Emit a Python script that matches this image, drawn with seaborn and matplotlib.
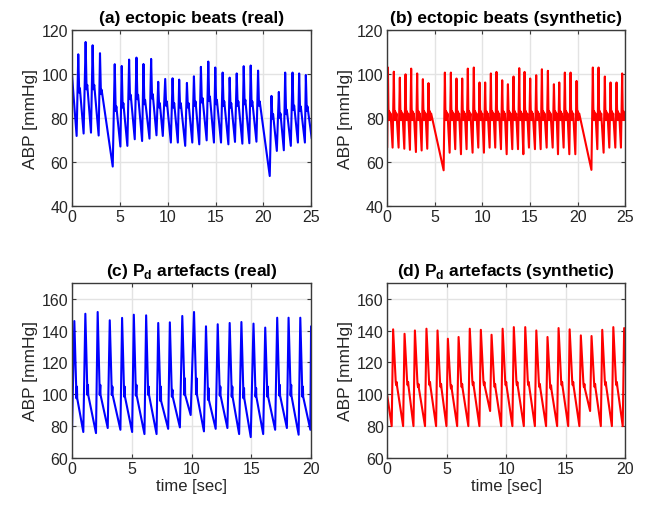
import numpy as np
import pandas as pd
import matplotlib
matplotlib.use("Agg")
import matplotlib.pyplot as plt
import seaborn as sns

# ---- (a) ectopic beats, real ----
a_lead_t = [0.0, 0.17]
a_lead_v = [100.0, 90.0]
a_trough_t = [0.49, 1.22, 1.99, 2.79, 4.26, 5.06, 5.79, 6.56, 7.33, 8.10,
              8.83, 9.49, 10.33, 11.06, 11.83, 12.57, 13.30, 14.07, 14.83, 15.57,
              16.34, 17.03, 17.80, 18.53, 19.27, 20.66, 21.40, 22.13, 22.86, 23.60, 24.33]
a_trough_v = [71.8, 72.9, 73.3, 72.0, 57.9, 67.0, 67.3, 70.3, 69.5, 70.6,
              72.1, 71.8, 68.8, 68.8, 67.3, 68.8, 68.0, 69.8, 68.8, 68.8,
              68.0, 69.1, 68.3, 68.5, 69.2, 53.6, 65.0, 65.3, 67.3, 68.8, 68.8]
a_peak_t = [0.66, 1.43, 2.16, 2.93, 4.47, 5.20, 5.97, 6.74, 7.47, 8.27,
            9.01, 9.74, 10.51, 11.20, 12.01, 12.74, 13.47, 14.24, 14.97, 15.74,
            16.47, 17.21, 17.94, 18.67, 19.44, 20.84, 21.61, 22.27, 23.04, 23.73, 24.43]
a_peak_v = [108.9, 114.5, 113.0, 109.4, 104.4, 103.6, 106.5, 107.4, 104.5, 106.8,
            96.4, 97.7, 98.0, 97.4, 95.9, 98.9, 103.2, 105.6, 102.9, 100.6,
            98.3, 100.2, 103.5, 103.8, 101.5, 90.0, 91.8, 100.6, 100.6, 100.2, 99.5]
a_notch_v = [91.5, 93.0, 93.0, 90.8, 83.2, 84.7, 88.5, 88.5, 86.2, 88.8,
             84.7, 85.5, 84.7, 84.7, 84.7, 85.5, 87.0, 87.7, 86.2, 85.5,
             84.7, 85.5, 86.2, 85.5, 85.5, 79.7, 80.0, 81.7, 83.6, 83.2, 83.2]
a_tail_t = [25.05]
a_tail_v = [70.5]

# ---- (b) ectopic beats, synthetic ----
b_trough_t = [0.0, 0.57, 1.20, 1.80, 2.39, 3.02, 3.62, 4.21,
              5.93, 6.56, 7.15, 7.75, 8.34, 8.97, 9.57, 10.16, 10.76, 11.35, 11.95, 12.55,
              13.14, 13.74, 14.30, 14.89, 15.52, 16.12, 16.75, 17.38, 17.94, 18.53, 19.13, 19.76,
              21.45, 22.07, 22.73, 23.33, 23.96, 24.55]
b_trough_v = [66.5, 66.5, 66.5, 66.0, 65.5, 64.5, 65.2, 66.0,
              56.2, 64.2, 65.8, 63.5, 65.8, 64.2, 66.5, 64.2, 66.5, 66.5, 65.8, 63.5,
              65.8, 65.8, 63.5, 66.5, 65.8, 65.8, 66.5, 66.5, 63.5, 66.5, 63.5, 63.5,
              56.4, 65.8, 64.2, 66.5, 66.5, 66.5]
b_peak_t = [0.08, 0.70, 1.33, 1.93, 2.52, 3.15, 3.75, 4.34,
            6.06, 6.69, 7.28, 7.88, 8.47, 9.10, 9.70, 10.29, 10.89, 11.48, 12.08, 12.68,
            13.27, 13.87, 14.43, 15.02, 15.65, 16.25, 16.88, 17.51, 18.07, 18.66, 19.26, 19.89,
            21.60, 22.20, 22.86, 23.46, 24.09, 24.68]
b_peak_v = [102.9, 101.0, 98.3, 99.8, 102.4, 100.2, 97.6, 95.8,
            100.6, 100.6, 97.9, 97.9, 102.4, 102.9, 96.1, 96.1, 100.2, 100.9, 97.1, 95.3,
            98.8, 102.6, 100.9, 97.9, 99.4, 102.1, 101.4, 95.3, 96.1, 100.6, 100.6, 96.8,
            102.9, 102.9, 98.8, 96.1, 96.1, 100.2]
b_notch_v = [82.0] * 38
b_tail_t = [25.05]
b_tail_v = [80.0]

# ---- (c) Pd artefacts, real ----
c_trough_t = [0.0, 0.95, 2.01, 2.99, 4.05, 5.03, 6.06, 7.07, 8.04, 9.02, 9.92,
              11.03, 12.01, 12.99, 13.97, 14.94, 15.98, 16.98, 17.96, 18.94, 19.92]
c_trough_v = [76.0, 76.3, 75.6, 78.8, 77.7, 76.3, 75.0, 75.0, 78.3, 79.2, 87.0,
              76.7, 78.3, 78.8, 75.0, 73.1, 75.0, 77.7, 78.8, 74.6, 77.7]
c_peak_t = [0.20, 1.12, 2.15, 3.16, 4.19, 5.17, 6.20, 7.21, 8.18, 9.22, 10.20,
            11.20, 12.18, 13.18, 14.16, 15.17, 16.15, 17.15, 18.10, 19.08, 19.98]
c_peak_v = [146.0, 150.6, 151.7, 146.5, 148.0, 150.0, 149.6, 144.8, 145.2, 149.2, 151.7,
            142.7, 144.0, 144.8, 145.4, 144.4, 141.9, 148.1, 148.1, 148.1, 142.7]
c_notch_hi = [105.8, 106.9, 106.9, 105.8, 105.8, 106.9, 105.8, 105.8, 103.8, 111.0, 111.0,
              104.8, 105.8, 105.8, 104.8, 104.8, 105.8, 106.9, 106.9, 105.8, 105.8]
c_notch_lo = [97.5, 99.6, 99.6, 99.6, 98.5, 99.2, 99.6, 95.8, 98.5, 99.6, 100.0,
              96.5, 99.2, 98.5, 97.5, 98.5, 98.5, 99.2, 99.2, 98.5, 98.5]

# ---- (d) Pd artefacts, synthetic ----
d_lead_t = [0.0]
d_lead_v = [99.5]
d_trough_t = [0.38, 1.34, 2.21, 3.18, 4.11, 4.98, 5.88, 6.82, 7.75, 8.65, 9.58,
              10.52, 11.48, 12.41, 13.35, 14.28, 15.21, 16.15, 17.05, 17.95, 18.88, 19.79]
d_trough_v = [80.0, 80.0, 80.0, 80.0, 80.0, 80.0, 80.0, 80.0, 80.0, 89.5, 80.0,
              80.0, 80.0, 80.0, 80.0, 80.0, 80.0, 80.0, 89.5, 80.0, 80.0, 80.0]
d_peak_t = [0.50, 1.46, 2.33, 3.30, 4.23, 5.10, 6.00, 6.94, 7.87, 8.77, 9.70,
            10.64, 11.60, 12.53, 13.47, 14.40, 15.33, 16.27, 17.17, 18.07, 19.00, 19.91]
d_peak_v = [140.8, 138.0, 140.1, 141.2, 140.1, 134.9, 136.0, 141.2, 140.5, 137.4, 141.2,
            142.2, 142.2, 140.1, 136.0, 141.6, 140.8, 137.0, 136.6, 140.5, 142.2, 141.6]
d_notch_v = [107.7, 107.7, 106.5, 107.7, 106.5, 105.6, 106.5, 107.7, 107.7, 106.5, 107.7,
             107.7, 107.7, 106.5, 105.6, 107.7, 107.7, 106.5, 106.5, 107.7, 107.7, 107.7]


def build_trace(trough_t, trough_v, peak_t, peak_v, after, lead=([], []), tail=([], [])):
    ts, vs = list(lead[0]), list(lead[1])
    for i in range(len(peak_t)):
        ts += [trough_t[i], peak_t[i]]
        vs += [trough_v[i], peak_v[i]]
        for tt, vv in after(i):
            ts.append(tt)
            vs.append(vv)
    ts += list(tail[0])
    vs += list(tail[1])
    return pd.DataFrame({"t": ts, "v": vs})


def after_a(i):
    tp, n = a_peak_t[i], a_notch_v[i]
    return [(tp + 0.10, n), (tp + 0.17, n + 2.0)]


def after_b(i):
    tp, n = b_peak_t[i], b_notch_v[i]
    return [(tp + 0.05, n + 3), (tp + 0.09, n - 3), (tp + 0.14, n + 1),
            (tp + 0.20, n - 3), (tp + 0.28, n)]


def after_c(i):
    tp, hi, lo = c_peak_t[i], c_notch_hi[i], c_notch_lo[i]
    return [(tp + 0.15, hi), (tp + 0.17, lo), (tp + 0.22, hi - 1), (tp + 0.24, lo)]


def after_d(i):
    tp, n = d_peak_t[i], d_notch_v[i]
    return [(tp + 0.22, n), (tp + 0.26, n - 2), (tp + 0.30, n), (tp + 0.34, n - 3)]


df_a = build_trace(a_trough_t, a_trough_v, a_peak_t, a_peak_v, after_a,
                   (a_lead_t, a_lead_v), (a_tail_t, a_tail_v))
df_b = build_trace(b_trough_t, b_trough_v, b_peak_t, b_peak_v, after_b,
                   tail=(b_tail_t, b_tail_v))
df_c = build_trace(c_trough_t, c_trough_v, c_peak_t, c_peak_v, after_c)
df_d = build_trace(d_trough_t, d_trough_v, d_peak_t, d_peak_v, after_d,
                   (d_lead_t, d_lead_v))

sns.set_theme(style="whitegrid")
plt.rcParams["font.family"] = ["Liberation Sans", "DejaVu Sans"]
plt.rcParams["mathtext.fontset"] = "custom"
plt.rcParams["mathtext.rm"] = "Liberation Sans"
plt.rcParams["mathtext.bf"] = "Liberation Sans:bold"

dark = "#262626"
fig = plt.figure(figsize=(6.54, 5.06), dpi=100)
positions = [
    [0.110, 0.591, 0.366, 0.348],
    [0.592, 0.591, 0.364, 0.348],
    [0.110, 0.093, 0.366, 0.346],
    [0.592, 0.093, 0.364, 0.346],
]
panels = [
    (df_a, "blue", "(a) ectopic beats (real)", (0, 25), (40, 120), np.arange(40, 121, 20)),
    (df_b, "red", "(b) ectopic beats (synthetic)", (0, 25), (40, 120), np.arange(40, 121, 20)),
    (df_c, "blue", r"(c) P$_{\mathbf{d}}$ artefacts (real)", (0, 20), (60, 170), np.arange(60, 161, 20)),
    (df_d, "red", r"(d) P$_{\mathbf{d}}$ artefacts (synthetic)", (0, 20), (60, 170), np.arange(60, 161, 20)),
]

for k, (df, col, title, xl, yl, yt) in enumerate(panels):
    ax = fig.add_axes(positions[k])
    sns.lineplot(data=df, x="t", y="v", ax=ax, color=col, linewidth=1.5,
                 estimator=None, sort=False)
    ax.set_xlim(*xl)
    ax.set_ylim(*yl)
    ax.set_yticks(yt)
    ax.set_xticks(np.arange(xl[0], xl[1] + 1, 5))
    ax.grid(True, color="#e3e3e3", linewidth=1.0)
    for sp in ax.spines.values():
        sp.set_color("#3a3a3a")
        sp.set_linewidth(1.0)
    ax.tick_params(direction="in", length=3, width=0.8, color="#3a3a3a",
                   bottom=True, left=True, top=True, right=True,
                   labelsize=11.5, labelcolor=dark, pad=2.5)
    ax.set_title(title, fontsize=12.5, fontweight="bold", color="black", pad=6)
    ax.set_xlabel("time [sec]" if k >= 2 else "", fontsize=12, color=dark, labelpad=1)
    ax.set_ylabel("ABP [mmHg]", fontsize=12.5, color=dark, labelpad=3)

fig.savefig("out.png", dpi=100)
